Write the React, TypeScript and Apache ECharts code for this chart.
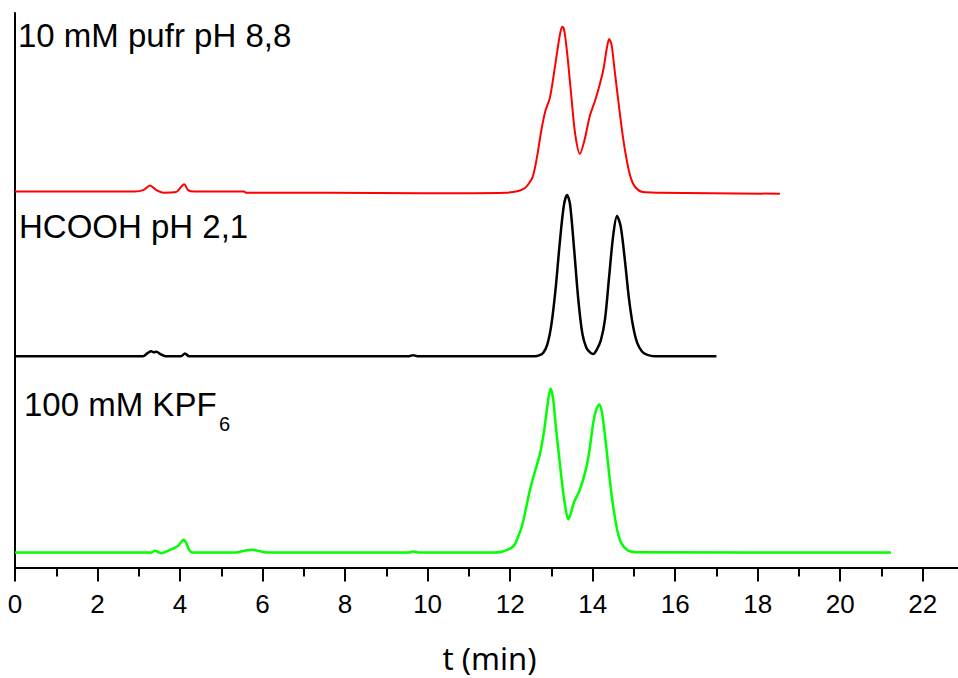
import React, { useEffect, useRef } from "react";
import * as echarts from "echarts";

// Retention time (min) vs detector signal (arbitrary units, traces stacked with offsets)
const redTrace: [number, number][] = [
  [0, 67.8], [2.9, 67.8], [3.12, 68.1], [3.27, 68.9], [3.42, 68.1], [3.6, 67.6], [3.9, 67.7],
  [4.02, 68.6], [4.1, 69.1], [4.2, 68.0], [4.35, 67.8], [5.55, 67.8], [5.6, 67.6], [6.2, 67.6],
  [7.6, 67.6], [9.9, 67.5], [11.9, 67.6], [12.2, 67.9], [12.35, 68.4], [12.45, 69.2], [12.55, 70.5],
  [12.65, 74.0], [12.76, 79.0], [12.86, 82.5], [12.96, 84.6], [13.05, 88.5], [13.15, 93.5],
  [13.22, 96.6], [13.27, 97.5], [13.32, 96.5], [13.4, 91.5], [13.49, 84.4], [13.58, 78.0],
  [13.69, 74.6], [13.8, 77.0], [13.93, 81.4], [14.05, 84.0], [14.15, 86.5], [14.26, 89.8],
  [14.34, 93.5], [14.4, 95.3], [14.46, 94.2], [14.52, 90.5], [14.6, 85.5], [14.7, 79.5],
  [14.78, 75.4], [14.88, 71.5], [14.98, 69.2], [15.1, 68.1], [15.22, 67.7], [15.6, 67.6], [18.54, 67.4],
];

const blackTrace: [number, number][] = [
  [0, 38.1], [3.1, 38.1], [3.22, 38.7], [3.3, 39.0], [3.36, 38.8], [3.43, 38.9], [3.52, 38.5],
  [3.65, 38.1], [4.02, 38.1], [4.12, 38.6], [4.22, 38.1], [9.55, 38.1], [9.65, 38.3], [9.75, 38.1],
  [12.6, 38.1], [12.7, 38.25], [12.8, 38.7], [12.9, 40.2], [13.0, 43.8], [13.1, 50.1], [13.2, 58.3],
  [13.3, 65.2], [13.38, 67.2], [13.45, 65.6], [13.55, 57.5], [13.65, 48.5], [13.75, 42.2],
  [13.85, 39.6], [13.95, 38.7], [14.01, 38.5], [14.1, 39.3], [14.2, 41.0], [14.3, 44.8],
  [14.4, 52.5], [14.5, 60.0], [14.59, 63.4], [14.68, 61.5], [14.78, 55.5], [14.88, 48.5],
  [14.98, 43.5], [15.08, 40.5], [15.2, 38.9], [15.31, 38.4], [15.5, 38.1], [17.0, 38.1],
];

const greenTrace: [number, number][] = [
  [0, 2.7], [3.3, 2.7], [3.39, 3.0], [3.48, 2.75], [3.55, 2.6], [3.68, 2.9], [3.8, 3.3],
  [3.95, 3.9], [4.03, 4.6], [4.09, 5.0], [4.15, 4.4], [4.22, 3.2], [4.3, 2.7], [5.35, 2.7],
  [5.55, 3.0], [5.73, 3.2], [5.9, 3.0], [6.1, 2.7], [9.55, 2.7], [9.65, 2.9], [9.8, 2.7],
  [11.6, 2.7], [11.8, 2.85], [12.0, 3.4], [12.1, 4.0], [12.18, 5.3], [12.28, 7.3], [12.38, 10.5],
  [12.48, 14.0], [12.6, 17.3], [12.72, 20.4], [12.82, 24.5], [12.9, 29.0], [12.98, 32.3],
  [13.04, 30.5], [13.1, 26.0], [13.17, 21.1], [13.27, 14.5], [13.34, 10.8], [13.41, 8.7],
  [13.55, 11.8], [13.69, 14.0], [13.85, 18.1], [13.93, 21.5], [14.01, 25.9], [14.08, 28.3],
  [14.16, 29.4], [14.22, 28.2], [14.28, 25.0], [14.34, 21.1], [14.42, 15.5], [14.5, 10.9],
  [14.6, 6.6], [14.7, 4.35], [14.85, 3.1], [15.06, 2.75], [21.23, 2.7],
];

const traceLabels = ["10 mM pufr pH 8,8", "HCOOH pH 2,1", "100 mM KPF"];
const subscript = "6";
const axisTitle = "t (min)";

export default function App() {
  const ref = useRef<HTMLDivElement>(null);
  useEffect(() => {
    if (!ref.current) return;
    const chart = echarts.init(ref.current, undefined, { renderer: "svg" });
    const labelFont = { fontSize: 33, fontFamily: "Liberation Sans, Arial, sans-serif", fill: "#000", verticalAlign: "middle", align: "left" };
    chart.setOption({
      animation: false,
      backgroundColor: "#fff",
      grid: { left: 15, right: 0, top: 13, bottom: 107, containLabel: false },
      xAxis: {
        type: "value",
        min: 0,
        max: 23,
        interval: 2,
        axisLine: { lineStyle: { color: "#000", width: 2 } },
        axisTick: { length: 14, lineStyle: { color: "#000", width: 2 } },
        minorTick: { show: true, splitNumber: 2, length: 9, lineStyle: { color: "#000", width: 2 } },
        splitLine: { show: false },
        minorSplitLine: { show: false },
        axisLabel: {
          showMaxLabel: false,
          margin: 36,
          verticalAlign: "middle",
          fontSize: 26,
          fontFamily: "Liberation Sans, Arial, sans-serif",
          color: "#000",
        },
        name: axisTitle,
        nameLocation: "middle",
        nameGap: 90,
        nameTextStyle: { fontSize: 31, fontFamily: "Noto Sans, sans-serif", color: "#000", verticalAlign: "middle" },
      },
      yAxis: {
        type: "value",
        min: 0,
        max: 100,
        axisLine: { show: true, lineStyle: { color: "#000", width: 2 } },
        axisTick: { show: false },
        axisLabel: { show: false },
        splitLine: { show: false },
      },
      series: [
        { type: "line", data: redTrace, smooth: 0.3, showSymbol: false, lineStyle: { color: "#ff0000", width: 2 }, itemStyle: { color: "#ff0000" } },
        { type: "line", data: blackTrace, smooth: 0.3, showSymbol: false, lineStyle: { color: "#000000", width: 2.5 }, itemStyle: { color: "#000" } },
        { type: "line", data: greenTrace, smooth: 0.3, showSymbol: false, lineStyle: { color: "#00ff00", width: 2.5 }, itemStyle: { color: "#00ff00" } },
      ],
      graphic: [
        { type: "text", x: 18, y: 35, style: { text: traceLabels[0], ...labelFont } },
        { type: "text", x: 19, y: 226, style: { text: traceLabels[1], ...labelFont } },
        { type: "text", x: 24, y: 404, style: { text: traceLabels[2], ...labelFont } },
        { type: "text", x: 219, y: 424, style: { text: subscript, ...labelFont, fontSize: 20 } },
      ],
    });
    return () => chart.dispose();
  }, []);
  return <div ref={ref} style={{ position: "fixed", left: 0, top: 0, width: 964, height: 678, background: "#fff" }} />;
}
